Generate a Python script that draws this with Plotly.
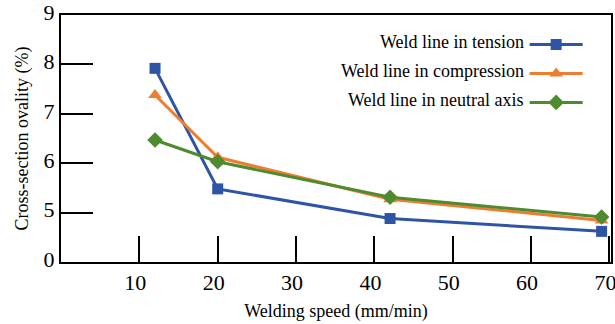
import plotly.graph_objects as go

speed = [12, 20, 42, 69]
tension = [7.92, 5.48, 4.88, 4.62]
compression = [7.38, 6.12, 5.27, 4.84]
neutral = [6.47, 6.03, 5.31, 4.91]
names = ["Weld line in tension", "Weld line in compression", "Weld line in neutral axis"]
colors = ["#2E55A5", "#ED7D31", "#4E8B2F"]
symbols = ["square", "triangle-up", "diamond"]
sizes = [11, 12, 12]
x_ticks = [10, 20, 30, 40, 50, 60, 70]
y_tickvals = [4, 5, 6, 7, 8, 9]
y_ticktext = ["0", "5", "6", "7", "8", "9"]

FONT = "Liberation Serif"
fig = go.Figure()
for ys, nm, c, s, sz in zip([tension, compression, neutral], names, colors, symbols, sizes):
    fig.add_trace(go.Scatter(x=speed, y=ys, mode="lines+markers", name=" ",
                             line=dict(color=c, width=3),
                             marker=dict(symbol=s, size=sz, color=c)))

ann_y = [0.891, 0.773, 0.656]
for nm, yy in zip(names, ann_y):
    fig.add_annotation(x=0.846, y=yy, xref="paper", yref="paper", text=nm,
                       showarrow=False, xanchor="right", yanchor="middle",
                       font=dict(family=FONT, size=18, color="black"))

fig.update_layout(
    width=615, height=324,
    margin=dict(l=61, r=4, t=15, b=62, autoexpand=False),
    paper_bgcolor="white", plot_bgcolor="white",
    font=dict(family=FONT, color="black"),
    showlegend=True,
    legend=dict(x=0.843, y=0.96, xanchor="left", yanchor="top",
                font=dict(family=FONT, size=20), bgcolor="rgba(0,0,0,0)",
                tracegroupgap=0, itemwidth=53),
    xaxis=dict(range=[0, 70.2], tickvals=x_ticks, ticks="inside", ticklen=26,
               tickwidth=2, tickcolor="black", showline=True, linewidth=2,
               linecolor="black", mirror=True, showgrid=False, zeroline=False,
               automargin=False, ticklabeloverflow="allow", ticklabelshift=-4,
               tickfont=dict(family=FONT, size=22, color="black"),
               title=dict(text="Welding speed (mm/min)", standoff=10,
                          font=dict(family=FONT, size=18, color="black"))),
    yaxis=dict(range=[4, 9], tickvals=y_tickvals, ticktext=y_ticktext,
               ticks="inside", ticklen=32, tickwidth=2, tickcolor="black",
               showline=True, linewidth=2, linecolor="black", mirror=True,
               showgrid=False, zeroline=False, automargin=False,
               ticklabeloverflow="allow", ticklabelshift=-3,
               tickfont=dict(family=FONT, size=22, color="black"),
               title=dict(text="Cross-section ovality (%)", standoff=10,
                          font=dict(family=FONT, size=18, color="black"))),
)
fig.write_html("out.html", config={"displayModeBar": False},
               post_script="document.body.style.margin='0';")
